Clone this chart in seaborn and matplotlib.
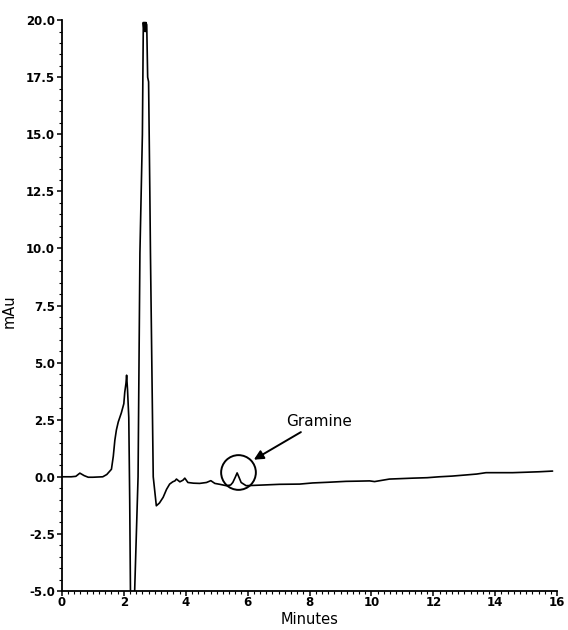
import matplotlib
matplotlib.use("Agg")
import matplotlib.pyplot as plt
import seaborn as sns
import pandas as pd
from matplotlib.ticker import MultipleLocator, FormatStrFormatter

# Chromatogram trace (minutes, mAu)
time_min = [0.0, 0.3, 0.45, 0.58, 0.72, 0.85, 1.0, 1.32, 1.45, 1.6, 1.66,
            1.71, 1.76, 1.82, 1.92, 2.0, 2.03, 2.07, 2.09, 2.12, 2.16, 2.19,
            2.22, 2.26, 2.30, 2.35, 2.46, 2.52, 2.60, 2.63, 2.65, 2.67, 2.69,
            2.71, 2.74, 2.77, 2.80, 2.84, 2.86, 2.95, 3.05, 3.15, 3.27, 3.38,
            3.48, 3.58, 3.65, 3.70, 3.81, 3.91, 3.97, 4.07, 4.25, 4.45, 4.67,
            4.81, 4.94, 5.1, 5.31, 5.45, 5.52, 5.60, 5.66, 5.72, 5.79, 5.95,
            6.5, 7.03, 7.68, 8.1, 8.6, 9.18, 9.6, 9.94, 10.1, 10.58, 11.33,
            11.8, 12.19, 12.6, 13.05, 13.4, 13.7, 14.1, 14.56, 15.0, 15.42,
            15.85]
absorbance = [0.0, 0.0, 0.02, 0.16, 0.05, -0.02, -0.02, 0.0, 0.1, 0.33, 0.9,
              1.6, 2.05, 2.4, 2.8, 3.2, 3.7, 4.1, 4.45, 3.8, 2.6, -1.0,
              -6.0, -6.5, -6.0, -5.0, 0.0, 9.8, 15.0, 19.9, 19.6, 19.9, 19.5,
              19.9, 19.8, 17.5, 17.3, 12.5, 9.8, 0.0, -1.27, -1.15, -0.9, -0.55,
              -0.32, -0.22, -0.18, -0.1, -0.22, -0.15, -0.06, -0.25, -0.28, -0.29, -0.25,
              -0.17, -0.29, -0.33, -0.39, -0.36, -0.25, -0.02, 0.17, -0.02, -0.25, -0.39,
              -0.36, -0.33, -0.32, -0.27, -0.24, -0.2, -0.19, -0.18, -0.21, -0.1, -0.06,
              -0.04, 0.0, 0.03, 0.08, 0.12, 0.18, 0.18, 0.18, 0.2, 0.22,
              0.25]

peak_label = "Gramine"
peak_time = 5.7
peak_level = 0.2
x_ticks = [0, 2, 4, 6, 8, 10, 12, 14, 16]
y_ticks = [-5.0, -2.5, 0.0, 2.5, 5.0, 7.5, 10.0, 12.5, 15.0, 17.5, 20.0]

df = pd.DataFrame({"Minutes": time_min, "mAu": absorbance})

sns.set_theme(style="white")
plt.rcParams["font.family"] = ["DejaVu Sans"]

fig = plt.figure(figsize=(5.68, 6.3), dpi=100)
ax = fig.add_axes([0.109, 0.062, 0.872, 0.906])

sns.lineplot(data=df, x="Minutes", y="mAu", ax=ax, color="black",
             linewidth=1.2, sort=False, estimator=None)

ax.set_xlim(0, 16)
ax.set_ylim(-5, 20)
ax.set_xticks(x_ticks)
ax.set_yticks(y_ticks)
ax.yaxis.set_major_formatter(FormatStrFormatter("%.1f"))
ax.xaxis.set_minor_locator(MultipleLocator(0.2))
ax.yaxis.set_minor_locator(MultipleLocator(0.5))

for side in ["top", "right"]:
    ax.spines[side].set_visible(False)
for side in ["left", "bottom"]:
    ax.spines[side].set_color("black")
    ax.spines[side].set_linewidth(1.3)

ax.tick_params(axis="both", which="both", bottom=True, left=True,
               top=False, right=False)
ax.tick_params(axis="both", which="major", direction="out", length=3.5,
               width=1.1, color="black", labelsize=8.5, labelcolor="black")
ax.tick_params(axis="x", which="major", pad=0.5)
ax.tick_params(axis="y", which="major", pad=1.5)
ax.tick_params(axis="both", which="minor", direction="out", length=2,
               width=0.8, color="black")
for lbl in ax.get_xticklabels() + ax.get_yticklabels():
    lbl.set_fontweight("bold")

ax.set_xlabel("Minutes", fontsize=10.5, color="black")
ax.set_ylabel("mAu", fontsize=10.5, color="black")
ax.xaxis.set_label_coords(0.5, -0.037)
ax.yaxis.set_label_coords(-0.092, 0.49)

# Circle marking the gramine peak
ax.plot([peak_time], [peak_level], marker="o", markersize=25,
        markerfacecolor="none", markeredgecolor="black", markeredgewidth=1.4)

ax.annotate(peak_label, xy=(6.2, 0.75), xytext=(7.25, 2.1),
            fontsize=11, color="black", ha="left", va="bottom",
            arrowprops=dict(arrowstyle="-|>", color="black", lw=1.4,
                            mutation_scale=14, shrinkA=0, shrinkB=0))

fig.savefig("out.png", dpi=100, facecolor="white")
